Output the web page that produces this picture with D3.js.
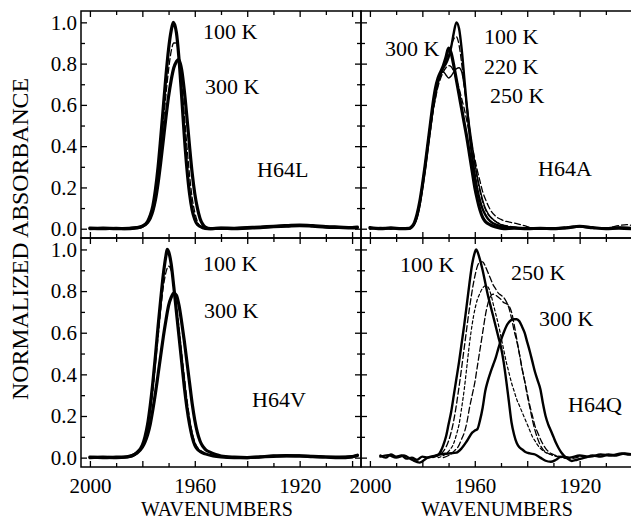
<!DOCTYPE html>
<html><head><meta charset="utf-8">
<script src="https://cdn.jsdelivr.net/npm/d3@7"></script>
<style>
body{margin:0;background:#fff}
svg{display:block}
text{font-family:"Liberation Serif","Times New Roman",serif;fill:#000}
</style>
</head><body><svg id="c" width="631" height="521"></svg>
<script>
// ---------- tick values ----------
const xMajorTicks = [2000, 1980, 1960, 1940, 1920, 1900];
const xMinorTicks = [1990, 1970, 1950, 1930, 1910];
const xTickLabels = [2000, 1960, 1920];
const yMajorTicks = [0, 0.2, 0.4, 0.6, 0.8, 1.0];
const yMinorTicks = [0.1, 0.3, 0.5, 0.7, 0.9];
const yTickLabels = [0, 0.2, 0.4, 0.6, 0.8, 1.0];

// ---------- H64L ----------
const h64L_100K = [[2000,0.003],[1995,0.0],[1990,0.002],[1986,0.0],[1983,0.003],[1981,0.007],[1980,0.012],[1978,0.035],[1977,0.065],[1976,0.11],[1975,0.19],[1974,0.3],[1973,0.44],[1972,0.59],[1971,0.74],[1970,0.87],[1969,0.96],[1968.2,1.0],[1967,0.95],[1966,0.82],[1965,0.64],[1964,0.45],[1963,0.29],[1962,0.17],[1961,0.09],[1960,0.045],[1959,0.02],[1957,0.005],[1955,0.0],[1950,0.002],[1945,0.0],[1940,0.003],[1935,0.005],[1930,0.01],[1925,0.012],[1920,0.015],[1915,0.012],[1910,0.008],[1905,0.006],[1900,0.004],[1898,0.005]];
const h64L_200K = [[1985,0.0],[1980,0.01],[1978,0.032],[1976,0.095],[1975,0.16],[1974,0.26],[1973,0.38],[1972,0.51],[1971,0.65],[1970,0.77],[1969,0.86],[1968,0.9],[1967,0.9],[1966,0.83],[1965,0.7],[1964,0.55],[1963,0.4],[1962,0.26],[1961,0.15],[1960,0.08],[1959,0.035],[1958,0.012],[1956,0.0],[1950,0.0]];
const h64L_300K = [[2000,0.0],[1995,0.003],[1990,0.0],[1985,0.002],[1982,0.005],[1980,0.012],[1978,0.03],[1977,0.05],[1976,0.085],[1975,0.14],[1974,0.22],[1973,0.32],[1972,0.43],[1971,0.54],[1970,0.64],[1969,0.72],[1968,0.78],[1967,0.81],[1966.3,0.82],[1965.5,0.8],[1965,0.77],[1964,0.67],[1963,0.54],[1962,0.4],[1961,0.27],[1960,0.17],[1959,0.1],[1958,0.05],[1957,0.022],[1956,0.008],[1954,0.0],[1950,0.003],[1945,0.002],[1940,0.005],[1935,0.008],[1930,0.012],[1925,0.015],[1920,0.018],[1915,0.015],[1910,0.01],[1905,0.008],[1900,0.006],[1898,0.008]];

// ---------- H64A ----------
const h64A_100K = [[2000,0.0],[1996,0.004],[1992,0.0],[1988,0.003],[1985,0.0],[1984,0.008],[1983,0.025],[1982,0.06],[1981,0.12],[1980,0.2],[1979,0.29],[1978,0.39],[1977,0.49],[1976,0.58],[1975,0.65],[1974,0.71],[1973,0.75],[1972,0.78],[1971,0.8],[1970,0.83],[1969,0.88],[1968,0.95],[1967,1.0],[1966,0.97],[1965,0.87],[1964,0.73],[1963,0.59],[1962,0.46],[1961,0.35],[1960,0.26],[1959,0.19],[1958,0.135],[1957,0.095],[1956,0.068],[1955,0.048],[1953,0.026],[1950,0.012],[1945,0.004],[1940,0.0],[1935,0.003],[1930,0.0],[1925,0.005],[1920,0.01],[1915,0.004],[1910,0.002],[1905,0.006],[1900,0.004]];
const h64A_180K = [[1984,0.008],[1982,0.06],[1980,0.2],[1978,0.39],[1976,0.58],[1975,0.66],[1974,0.72],[1973,0.76],[1972,0.79],[1971,0.82],[1970,0.85],[1969,0.89],[1968,0.92],[1967,0.93],[1966,0.89],[1965,0.8],[1964,0.69],[1963,0.58],[1962,0.48],[1961,0.39],[1960,0.31],[1959,0.24],[1958,0.18],[1957,0.13],[1956,0.095],[1954,0.055],[1952,0.035],[1950,0.022],[1946,0.01],[1940,0.003]];
const h64A_220K = [[1985,0.0],[1984,0.008],[1983,0.025],[1982,0.06],[1981,0.12],[1980,0.2],[1979,0.29],[1978,0.39],[1977,0.49],[1976,0.58],[1975,0.66],[1974,0.72],[1973,0.75],[1972,0.76],[1971,0.745],[1970,0.73],[1969,0.74],[1968,0.76],[1967,0.775],[1966,0.78],[1965,0.76],[1964,0.69],[1963,0.6],[1962,0.5],[1961,0.41],[1960,0.32],[1959,0.25],[1958,0.19],[1957,0.14],[1956,0.1],[1955,0.075],[1953,0.045],[1950,0.02],[1946,0.008],[1940,0.003],[1930,0.0]];
const h64A_250K = [[1985,0.0],[1984,0.008],[1983,0.025],[1982,0.06],[1981,0.115],[1980,0.19],[1979,0.28],[1978,0.38],[1977,0.47],[1976,0.56],[1975,0.63],[1974,0.69],[1973,0.73],[1972,0.76],[1971,0.78],[1970,0.79],[1969,0.785],[1968,0.76],[1967,0.72],[1966,0.68],[1965,0.63],[1964,0.58],[1963,0.52],[1962,0.46],[1961,0.4],[1960,0.34],[1959,0.28],[1958,0.23],[1957,0.18],[1956,0.145],[1955,0.115],[1954,0.09],[1952,0.06],[1950,0.045],[1948,0.035],[1946,0.03],[1944,0.025],[1942,0.018],[1940,0.01],[1938,0.004],[1935,0.0],[1930,0.004],[1925,0.008],[1920,0.012],[1915,0.006],[1910,0.004],[1905,0.015],[1902,0.02],[1900,0.015]];
const h64A_300K = [[2000,0.005],[1996,0.0],[1992,0.004],[1988,0.0],[1985,0.002],[1984,0.01],[1983,0.03],[1982,0.07],[1981,0.13],[1980,0.21],[1979,0.3],[1978,0.4],[1977,0.5],[1976,0.6],[1975,0.68],[1974,0.73],[1973,0.76],[1972,0.79],[1971,0.83],[1970,0.875],[1969,0.85],[1968,0.79],[1967,0.72],[1966,0.65],[1965,0.58],[1964,0.51],[1963,0.44],[1962,0.36],[1961,0.28],[1960,0.2],[1959,0.14],[1958,0.09],[1957,0.055],[1956,0.035],[1954,0.018],[1952,0.008],[1949,0.0],[1945,0.003],[1940,0.0],[1935,0.002],[1930,0.0],[1925,0.004],[1920,0.012],[1915,0.005],[1910,0.0],[1905,0.003],[1900,0.0]];

// ---------- H64V ----------
const h64V_100K = [[2000,0.0],[1995,0.002],[1990,0.0],[1986,0.003],[1984,0.008],[1982,0.025],[1980,0.06],[1979,0.1],[1978,0.16],[1977,0.25],[1976,0.36],[1975,0.49],[1974,0.63],[1973,0.76],[1972,0.88],[1971,0.97],[1970.5,1.0],[1970,0.99],[1969,0.93],[1968,0.82],[1967,0.7],[1966,0.58],[1965,0.46],[1964,0.34],[1963,0.24],[1962,0.16],[1961,0.1],[1960,0.06],[1959,0.04],[1958,0.03],[1956,0.018],[1953,0.008],[1950,0.003],[1945,0.0],[1940,0.0],[1935,0.003],[1930,0.006],[1925,0.008],[1920,0.008],[1915,0.005],[1910,0.003],[1905,0.0],[1900,0.004],[1898,0.01]];
const h64V_200K = [[1984,0.005],[1982,0.02],[1980,0.055],[1978,0.14],[1977,0.22],[1976,0.32],[1975,0.45],[1974,0.58],[1973,0.71],[1972,0.82],[1971,0.89],[1970,0.92],[1969,0.9],[1968,0.83],[1967,0.73],[1966,0.62],[1965,0.5],[1964,0.39],[1963,0.28],[1962,0.19],[1961,0.12],[1960,0.075],[1958,0.035],[1955,0.015],[1950,0.005]];
const h64V_300K = [[2000,0.003],[1995,0.0],[1990,0.002],[1986,0.004],[1984,0.01],[1982,0.022],[1980,0.05],[1979,0.075],[1978,0.11],[1977,0.16],[1976,0.23],[1975,0.31],[1974,0.4],[1973,0.49],[1972,0.58],[1971,0.66],[1970,0.73],[1969,0.77],[1968,0.79],[1967,0.78],[1966,0.73],[1965,0.65],[1964,0.56],[1963,0.46],[1962,0.36],[1961,0.26],[1960,0.18],[1959,0.12],[1958,0.08],[1957,0.055],[1956,0.04],[1954,0.025],[1952,0.015],[1950,0.008],[1945,0.002],[1940,0.0],[1935,0.004],[1930,0.008],[1925,0.01],[1920,0.008],[1915,0.006],[1910,0.003],[1905,0.002],[1900,0.005],[1898,0.012]];

// ---------- H64Q ----------
const h64Q_100K = [[1996,0.01],[1994,0.0],[1992,0.015],[1990,0.005],[1988,0.01],[1986,-0.005],[1984,0.0],[1982,-0.01],[1980,0.005],[1978,0.0],[1976,0.005],[1974,0.012],[1973,0.03],[1972,0.06],[1971,0.1],[1970,0.16],[1969,0.22],[1968,0.3],[1967,0.38],[1966,0.46],[1965,0.55],[1964,0.64],[1963,0.74],[1962,0.84],[1961,0.93],[1960,0.985],[1959.5,1.0],[1959,0.99],[1958,0.95],[1957,0.9],[1956,0.84],[1955,0.78],[1954,0.73],[1953,0.68],[1952,0.63],[1951,0.58],[1950,0.53],[1949,0.46],[1948,0.37],[1947,0.27],[1946,0.17],[1945,0.11],[1944,0.07],[1943,0.05],[1942,0.04],[1941,0.03],[1939,0.02],[1937,0.015],[1935,0.0],[1933,-0.015],[1931,-0.02],[1929,-0.01],[1927,0.005],[1924,0.0],[1920,0.01],[1916,0.005],[1912,0.015],[1908,0.01],[1904,0.02],[1901,0.015],[1899,0.025]];
const h64Q_200K = [[1976,0.0],[1974,0.01],[1972,0.03],[1970,0.08],[1968,0.18],[1966,0.34],[1964,0.53],[1962,0.72],[1960,0.87],[1959,0.92],[1958,0.94],[1957,0.94],[1956,0.92],[1955,0.89],[1954,0.86],[1953,0.83],[1952,0.81],[1951,0.79],[1950,0.78],[1949,0.77],[1948,0.75],[1947,0.72],[1946,0.67],[1945,0.61],[1944,0.56],[1943,0.5],[1942,0.43],[1941,0.37],[1940,0.3],[1939,0.24],[1938,0.18],[1937,0.13],[1936,0.09],[1935,0.06],[1934,0.04],[1932,0.02],[1930,0.01],[1927,0.0],[1924,-0.005],[1920,0.005]];
const h64Q_220K = [[1974,0.0],[1972,0.01],[1970,0.03],[1968,0.07],[1967,0.11],[1966,0.16],[1965,0.24],[1964,0.33],[1963,0.44],[1962,0.55],[1961,0.64],[1960,0.71],[1959,0.76],[1958,0.79],[1957,0.815],[1956,0.825],[1955,0.82],[1954,0.79],[1953,0.74],[1952,0.69],[1951,0.64],[1950,0.58],[1949,0.52],[1948,0.46],[1947,0.41],[1946,0.36],[1945,0.32],[1944,0.28],[1943,0.25],[1942,0.22],[1941,0.19],[1940,0.16],[1939,0.13],[1938,0.1],[1937,0.08],[1936,0.06],[1935,0.045],[1933,0.025],[1931,0.015],[1928,0.005],[1924,0.0]];
const h64Q_250K = [[1972,0.0],[1970,0.01],[1968,0.03],[1966,0.06],[1965,0.09],[1964,0.12],[1963,0.17],[1962,0.24],[1961,0.3],[1960,0.36],[1959,0.44],[1958,0.52],[1957,0.6],[1956,0.68],[1955,0.74],[1954,0.775],[1953,0.785],[1952,0.78],[1951,0.77],[1950,0.76],[1949,0.745],[1948,0.74],[1947,0.73],[1946,0.7],[1945,0.64],[1944,0.57],[1943,0.5],[1942,0.43],[1941,0.37],[1940,0.31],[1939,0.25],[1938,0.2],[1937,0.15],[1936,0.12],[1935,0.09],[1934,0.065],[1933,0.045],[1932,0.03],[1930,0.015],[1927,0.005],[1924,0.0]];
const h64Q_300K = [[1996,0.005],[1993,0.012],[1990,0.0],[1987,0.01],[1984,-0.01],[1981,-0.024],[1978,0.0],[1975,0.01],[1973,0.016],[1970,0.02],[1967,0.024],[1965,0.045],[1963,0.08],[1961,0.12],[1960,0.13],[1959,0.137],[1958,0.18],[1957,0.24],[1956,0.32],[1955,0.37],[1954,0.41],[1953,0.445],[1952,0.48],[1951,0.525],[1950,0.565],[1949,0.6],[1948,0.63],[1947,0.65],[1946,0.662],[1945,0.665],[1944,0.665],[1943,0.655],[1942,0.63],[1941,0.6],[1940,0.555],[1939,0.51],[1938,0.46],[1937,0.41],[1936,0.37],[1935,0.33],[1934,0.26],[1933,0.2],[1932,0.16],[1931,0.13],[1930,0.1],[1929,0.07],[1928,0.045],[1927,0.025],[1926,0.01],[1925,0.0],[1923,-0.016],[1921,-0.01],[1918,0.0],[1915,0.01],[1912,0.005],[1909,0.015],[1906,0.01],[1903,0.02],[1900,0.015]];

// ---------- layout ----------
const svg = d3.select("#c");
const colRange = [[81, 361], [361, 641]];
const rowRange = [[238, 11], [467, 238]];
const xDomain = [2003.4, 1896.6];
const yDomain = [-0.045, 1.055];
const xTitleCenter = [217, 497];

const styles = {
  thick:  {w: 3.2, dash: null},
  solid:  {w: 2.4, dash: null},
  thin:   {w: 1.4, dash: null},
  dash:   {w: 1.3, dash: "6,3"},
  sdash:  {w: 1.2, dash: "3,2.5"}
};

const panels = [
  {col:0,row:0, series:[[h64L_100K,"thick"],[h64L_300K,"thick"],[h64L_200K,"dash"]],
   labels:[["100 K",203,39],["300 K",205,94],["H64L",257,177]]},
  {col:1,row:0, series:[[h64A_300K,"thick"],[h64A_100K,"solid"],[h64A_220K,"thin"],[h64A_180K,"dash"],[h64A_250K,"dash"]],
   labels:[["300 K",385,56],["100 K",484,44],["220 K",484,74],["250 K",490,103],["H64A",538,176]]},
  {col:0,row:1, series:[[h64V_100K,"thick"],[h64V_300K,"thick"],[h64V_200K,"dash"]],
   labels:[["100 K",203,271],["300 K",204,318],["H64V",252,407]]},
  {col:1,row:1, series:[[h64Q_100K,"solid"],[h64Q_300K,"solid"],[h64Q_200K,"dash"],[h64Q_220K,"sdash"],[h64Q_250K,"dash"]],
   labels:[["100 K",400,272],["250 K",511,280],["300 K",539,326],["H64Q",568,412]]}
];

function styleAxis(g){
  g.select(".domain").remove();
  g.selectAll(".tick line").attr("stroke","#000").attr("stroke-width",1.3);
  g.selectAll("text").attr("font-family",'"Liberation Serif","Times New Roman",serif').attr("font-size",21).attr("fill","#000");
}

panels.forEach(p => {
  const x = d3.scaleLinear().domain(xDomain).range(colRange[p.col]);
  const y = d3.scaleLinear().domain(yDomain).range(rowRange[p.row]);
  const [x0,x1] = colRange[p.col];
  const [yb,yt] = rowRange[p.row];

  const line = d3.line().x(d => x(d[0])).y(d => y(d[1])).curve(d3.curveMonotoneX);
  const g = svg.append("g");
  p.series.forEach(([data, st]) => {
    const s = styles[st];
    g.append("path").attr("d", line(data)).attr("fill","none")
      .attr("stroke","#000").attr("stroke-width",s.w)
      .attr("stroke-linejoin","round").attr("stroke-linecap","round")
      .attr("stroke-dasharray", s.dash);
  });

  // ticks on all sides pointing inward
  [[xMajorTicks,6],[xMinorTicks,4]].forEach(([vals,len]) => {
    svg.append("g").attr("transform",`translate(0,${yb})`).call(d3.axisBottom(x).tickValues(vals).tickSize(-len).tickFormat("")).call(styleAxis);
    svg.append("g").attr("transform",`translate(0,${yt})`).call(d3.axisTop(x).tickValues(vals).tickSize(-len).tickFormat("")).call(styleAxis);
  });
  [[yMajorTicks,6],[yMinorTicks,4]].forEach(([vals,len]) => {
    svg.append("g").attr("transform",`translate(${x0},0)`).call(d3.axisLeft(y).tickValues(vals).tickSize(-len).tickFormat("")).call(styleAxis);
    svg.append("g").attr("transform",`translate(${x1},0)`).call(d3.axisRight(y).tickValues(vals).tickSize(-len).tickFormat("")).call(styleAxis);
  });

  // frame
  svg.append("rect").attr("x",x0).attr("y",yt).attr("width",x1-x0).attr("height",yb-yt)
    .attr("fill","none").attr("stroke","#000").attr("stroke-width",1.5);

  // tick labels
  if (p.col === 0) {
    svg.append("g").attr("transform",`translate(${x0},0)`)
      .call(d3.axisLeft(y).tickValues(yTickLabels).tickSize(0).tickPadding(4).tickFormat(d3.format(".1f")))
      .call(styleAxis);
  }
  if (p.row === 1) {
    svg.append("g").attr("transform",`translate(0,${yb})`)
      .call(d3.axisBottom(x).tickValues(xTickLabels).tickSize(0).tickPadding(11).tickFormat(d3.format("d")))
      .call(styleAxis);
    svg.append("text").attr("x",xTitleCenter[p.col]).attr("y",515.5)
      .attr("text-anchor","middle").attr("font-size",20).text("WAVENUMBERS");
  }

  p.labels.forEach(([t,lx,ly]) => {
    svg.append("text").attr("x",lx).attr("y",ly).attr("font-size",22).text(t);
  });
});

svg.append("text").attr("transform","translate(28,239) rotate(-90)")
  .attr("text-anchor","middle").attr("font-size",23)
  .attr("textLength",322).attr("lengthAdjust","spacingAndGlyphs")
  .text("NORMALIZED ABSORBANCE");
</script>
</body></html>
